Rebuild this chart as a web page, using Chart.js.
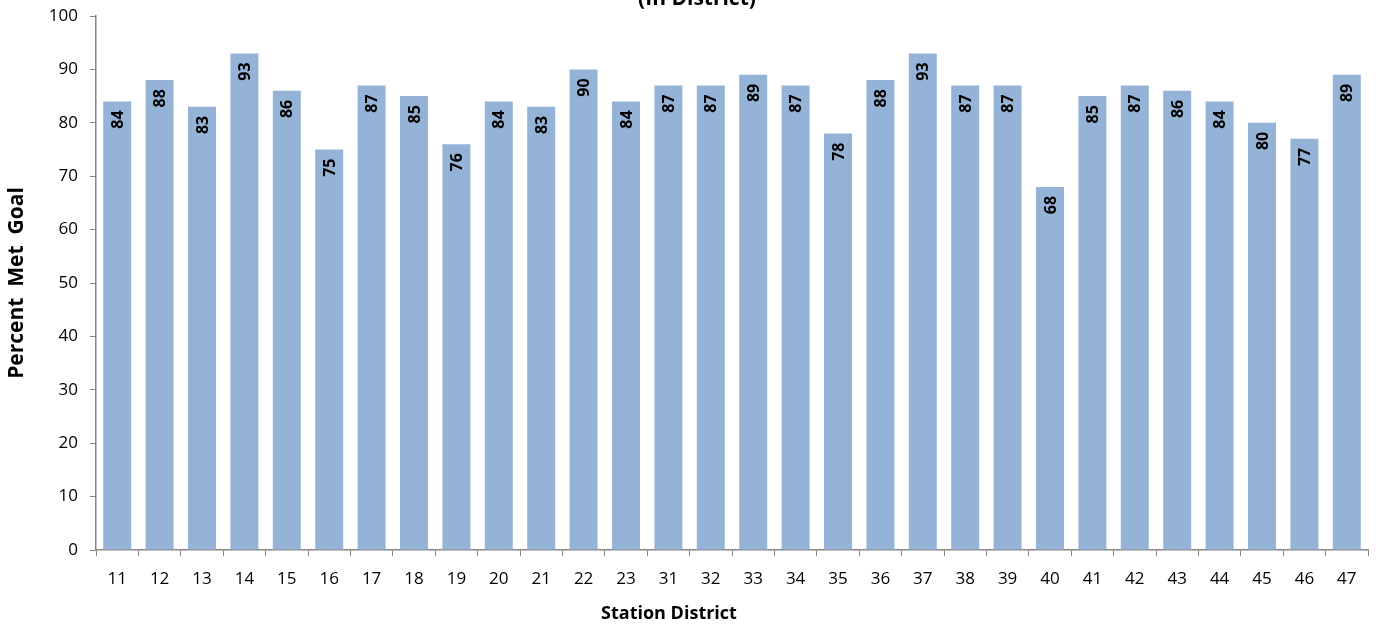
<!DOCTYPE html>
<html>
<head>
<meta charset="utf-8">
<script src="https://cdn.jsdelivr.net/npm/chart.js@4/dist/chart.umd.min.js"></script>
<style>
  html, body { margin: 0; padding: 0; background: #fff; }
  #wrap { width: 1376px; height: 624px; }
</style>
</head>
<body>
<div id="wrap"><canvas id="grafica"></canvas></div>
<script>
// Distritos y porcentajes
const distritos = ["11","12","13","14","15","16","17","18","19","20","21","22","23","31","32",
                   "33","34","35","36","37","38","39","40","41","42","43","44","45","46","47"];
const porcentajes = [84, 88, 83, 93, 86, 75, 87, 85, 76, 84, 83, 90, 84, 87, 87,
                     89, 87, 78, 88, 93, 87, 87, 68, 85, 87, 86, 84, 80, 77, 89];
const ticksY = [0, 10, 20, 30, 40, 50, 60, 70, 80, 90, 100];

const fuente = "'Open Sans', 'Liberation Sans', sans-serif";

// Etiquetas dentro de cada barra, giradas
const etiquetasBarras = {
  id: "etiquetasBarras",
  afterDatasetsDraw(chart) {
    const ctx = chart.ctx;
    const meta = chart.getDatasetMeta(0);
    ctx.save();
    ctx.fillStyle = "#000";
    ctx.font = "bold 16px " + fuente;
    ctx.textAlign = "right";
    ctx.textBaseline = "middle";
    meta.data.forEach((bar, i) => {
      ctx.save();
      ctx.translate(bar.x + 1, bar.y + 9);
      ctx.rotate(-Math.PI / 2);
      ctx.fillText(String(porcentajes[i]), 0, 0);
      ctx.restore();
    });
    ctx.restore();
  }
};

// Titulo recortado arriba y titulo del eje X
const textos = {
  id: "textos",
  afterDraw(chart) {
    const ctx = chart.ctx;
    ctx.save();
    ctx.fillStyle = "#000";
    ctx.textAlign = "center";
    ctx.textBaseline = "alphabetic";
    ctx.font = "bold 21px " + fuente;
    ctx.fillText("(In District)", 697, 5);
    ctx.font = "bold 18px " + fuente;
    ctx.fillText("Station District", 669, 619);
    ctx.restore();
  }
};

new Chart(document.getElementById("grafica"), {
  type: "bar",
  data: {
    labels: distritos,
    datasets: [{
      data: porcentajes,
      backgroundColor: "#95B3D7",
      borderWidth: 0,
      categoryPercentage: 1,
      barPercentage: 0.66
    }]
  },
  options: {
    responsive: true,
    maintainAspectRatio: false,
    animation: false,
    layout: { padding: { top: 16, right: 8, left: 0, bottom: 0 } },
    plugins: {
      legend: { display: false },
      tooltip: { enabled: false }
    },
    scales: {
      x: {
        grid: { drawOnChartArea: false, drawTicks: true, tickLength: 6, color: "#868686", lineWidth: 1 },
        border: { color: "#868686", width: 1.5 },
        ticks: { color: "#000", font: { size: 17, family: fuente }, padding: 13, maxRotation: 0 },
        afterFit(scale) { scale.height = 74; }
      },
      y: {
        min: 0, max: 100,
        afterBuildTicks(scale) { scale.ticks = ticksY.map(v => ({ value: v })); },
        grid: { drawOnChartArea: false, drawTicks: true, tickLength: 6, color: "#868686", lineWidth: 1 },
        border: { color: "#868686", width: 1.5 },
        ticks: { color: "#000", font: { size: 17, family: fuente }, padding: 12 },
        title: { display: true, text: "Percent  Met  Goal", color: "#000",
                 font: { size: 21, weight: "bold", family: fuente }, padding: { bottom: 8 } },
        afterFit(scale) { scale.width = 96; scale.paddingTop = 0; scale.paddingBottom = 0; }
      }
    }
  },
  plugins: [etiquetasBarras, textos]
});
</script>
</body>
</html>
